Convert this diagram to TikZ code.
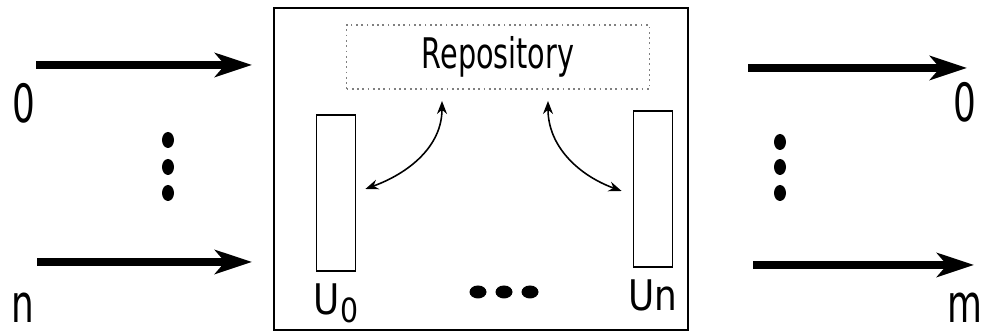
\documentclass[tikz,border=0pt]{standalone}
\usepackage{fontspec}
\setmainfont[FakeStretch=0.68]{DejaVu Sans}
\newfontfamily\tagfont[FakeStretch=0.85]{DejaVu Sans}
\usetikzlibrary{arrows.meta,positioning}

\begin{document}
\begin{tikzpicture}[x=0.1mm,y=-0.1mm,
		flow/.style = {line width=2.4pt, -{Stealth[length=3.7mm,width=2.4mm,inset=1mm]}},
		link/.style = {line width=0.45pt, {Stealth[length=1.3mm,width=1mm]}-{Stealth[length=1.3mm,width=1mm]}},
		unit/.style = {draw, line width=0.5pt, minimum width=3.9mm, minimum height=15.6mm, inner sep=0pt},
		port/.style = {font=\fontsize{15}{18}\selectfont, inner sep=0pt},
		tag/.style = {font=\tagfont\fontsize{12}{14}\selectfont, inner sep=0pt}]
		\useasboundingbox (0,0) rectangle (986,333);
		\node[draw, line width=0.7pt, minimum width=41.4mm, minimum height=32.2mm] (sys) at (481,169) {};
		\node[draw=gray, densely dotted, line width=0.5pt, minimum width=30.3mm, minimum height=6.3mm,
			font=\fontsize{12}{14}\selectfont] (repo) at (498,57) {Repository};
		\node[unit] (u0) at (336,193) {};
		\node[unit] (un) at (653,189) {};
		\node[tag] (l0) [below=1.1mm of u0] {U\raisebox{-0.35ex}{\fontsize{9.5}{11}\selectfont 0}};
		\node[tag] (ln) [below=1.1mm of un] {Un};
		\foreach \x in {478,504,530}
			\fill (\x,292) ellipse [x radius=8.5, y radius=6.5];
		\draw[link] ([xshift=-5.6mm,yshift=-1.1mm]repo.south) to[out=-90,in=20] ([xshift=0.9mm,yshift=0.4mm]u0.east);
		\draw[link] ([xshift=5mm,yshift=-1.1mm]repo.south) to[out=-90,in=160] ([xshift=-1.1mm,yshift=-0.2mm]un.west);
		% inputs
		\coordinate (a0) at (36,65);
		\coordinate (b0) at (252,65);
		\coordinate (an) at (37,262);
		\coordinate (bn) at (252,262);
		\draw[flow] (a0) -- (b0);
		\draw[flow] (an) -- (bn);
		\node[port] (i0) at (24,103) {0};
		\node[port] (in) at (23,308) {n};
		\foreach \y in {140,167,193}
			\fill (168,\y) ellipse [x radius=6, y radius=8];
		% outputs
		\coordinate (c0) at (748,68);
		\coordinate (d0) at (967,68);
		\coordinate (cm) at (753,265);
		\coordinate (dm) at (974,265);
		\draw[flow] (c0) -- (d0);
		\draw[flow] (cm) -- (dm);
		\node[port] (o0) at (965,102) {0};
		\node[port] (om) at (965,308) {m};
		\foreach \y in {142,167,193}
			\fill (780,\y) ellipse [x radius=6, y radius=8];
	\end{tikzpicture}
\end{document}
